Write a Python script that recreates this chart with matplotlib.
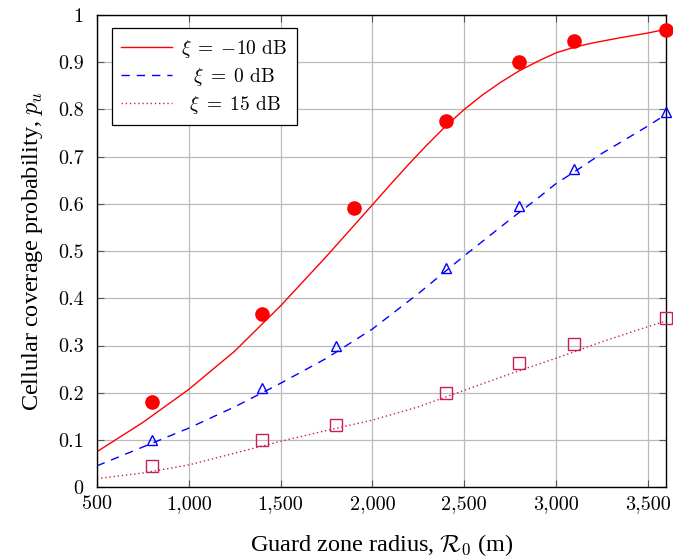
import numpy as np
import matplotlib
matplotlib.use('Agg')
import matplotlib.pyplot as plt
from matplotlib.ticker import FuncFormatter, MultipleLocator

# analytical curves
radius_m10 = [500, 750, 1000, 1250, 1500, 1750, 2000, 2100, 2200, 2300, 2400, 2500,
              2600, 2700, 2800, 2900, 3000, 3100, 3200, 3350, 3500, 3600]
pu_m10 = [0.075, 0.137, 0.207, 0.288, 0.384, 0.489, 0.598, 0.642, 0.685, 0.726, 0.765, 0.800,
          0.831, 0.858, 0.882, 0.902, 0.920, 0.932, 0.941, 0.952, 0.962, 0.970]
radius = [500, 750, 1000, 1250, 1500, 1750, 2000, 2250, 2500, 2750, 2900, 3000, 3100, 3250, 3500, 3600]
pu_0 = [0.045, 0.085, 0.125, 0.170, 0.220, 0.273, 0.335, 0.410, 0.490, 0.567, 0.612, 0.643, 0.668, 0.707, 0.765, 0.790]
pu_15 = [0.018, 0.030, 0.047, 0.072, 0.097, 0.120, 0.142, 0.170, 0.205, 0.240, 0.260, 0.273, 0.287, 0.308, 0.340, 0.352]

# simulation points
sim_radius = [800, 1400, 1800, 2400, 2800, 3100, 3600]
sim_radius_m10 = [800, 1400, 1900, 2400, 2800, 3100, 3600]
sim_m10 = [0.180, 0.366, 0.591, 0.776, 0.901, 0.946, 0.968]
sim_0 = [0.100, 0.210, 0.300, 0.464, 0.595, 0.674, 0.795]
sim_15 = [0.045, 0.100, 0.132, 0.200, 0.262, 0.303, 0.359]

legend_labels = [r'$\xi \;=\; {-10}$ dB',
                 r'$\hspace{0.75}\xi \;=\; 0$ dB',
                 r'$\hspace{0.5}\xi \;=\; 15$ dB']

plt.rcParams['font.family'] = 'cmr10'
plt.rcParams['mathtext.fontset'] = 'cm'
plt.rcParams['axes.unicode_minus'] = False
plt.rcParams['axes.formatter.use_mathtext'] = True

red = '#ff0000'
blue = '#0000ff'
pink = '#c81f5a'

fig = plt.figure(figsize=(6.73, 5.58), dpi=100)
ax = fig.add_axes([0.144, 0.127, 0.846, 0.846])

l1, = ax.plot(radius_m10, pu_m10, color=red, lw=1.0, ls='-')
l2, = ax.plot(radius, pu_0, color=blue, lw=1.0, ls=(0, (6, 5)))
l3, = ax.plot(radius, pu_15, color=pink, lw=1.0, ls=(0, (1, 2)))

ax.plot(sim_radius_m10, sim_m10, 'o', color=red, ms=9.5, mec=red, clip_on=False, zorder=4)
ax.plot(sim_radius, sim_0, '^', mfc='none', mec=blue, ms=7.5, mew=1.0, clip_on=False, zorder=4)
ax.plot(sim_radius, sim_15, 's', mfc='none', mec=pink, ms=9, mew=1.0, clip_on=False, zorder=4)

ax.set_xlim(500, 3600)
ax.set_ylim(0, 1)
ax.xaxis.set_major_locator(MultipleLocator(500))
ax.yaxis.set_major_locator(MultipleLocator(0.1))
ax.xaxis.set_major_formatter(FuncFormatter(lambda v, p: f'{v:,.0f}'))
ax.yaxis.set_major_formatter(FuncFormatter(lambda v, p: f'{v:g}'))
ax.tick_params(direction='in', top=True, right=True, length=5, width=0.8,
               color='#555555', labelsize=14.5)
ax.tick_params(axis='x', pad=5.5)
ax.tick_params(axis='y', pad=9.5)
ax.grid(True, color='#bbbbbb', lw=0.9)
ax.set_axisbelow(True)
for s in ax.spines.values():
    s.set_linewidth(1.0)

ax.set_xlabel(r'Guard zone radius, $\mathcal{R}_0$ (m)', family='Liberation Serif',
              fontsize=17.5, labelpad=14)
ax.set_ylabel(r'Cellular coverage probability, $p_u$', family='Liberation Serif',
              fontsize=17.5, labelpad=9)

leg = ax.legend([l1, l2, l3], legend_labels, loc='upper left',
                bbox_to_anchor=(0.026, 0.972), borderaxespad=0, fontsize=14,
                handlelength=2.6, fancybox=False, edgecolor='black', framealpha=1,
                borderpad=0.5, labelspacing=0.3, handletextpad=0.45)
leg.get_frame().set_linewidth(0.9)

fig.savefig('out.png', dpi=100)
